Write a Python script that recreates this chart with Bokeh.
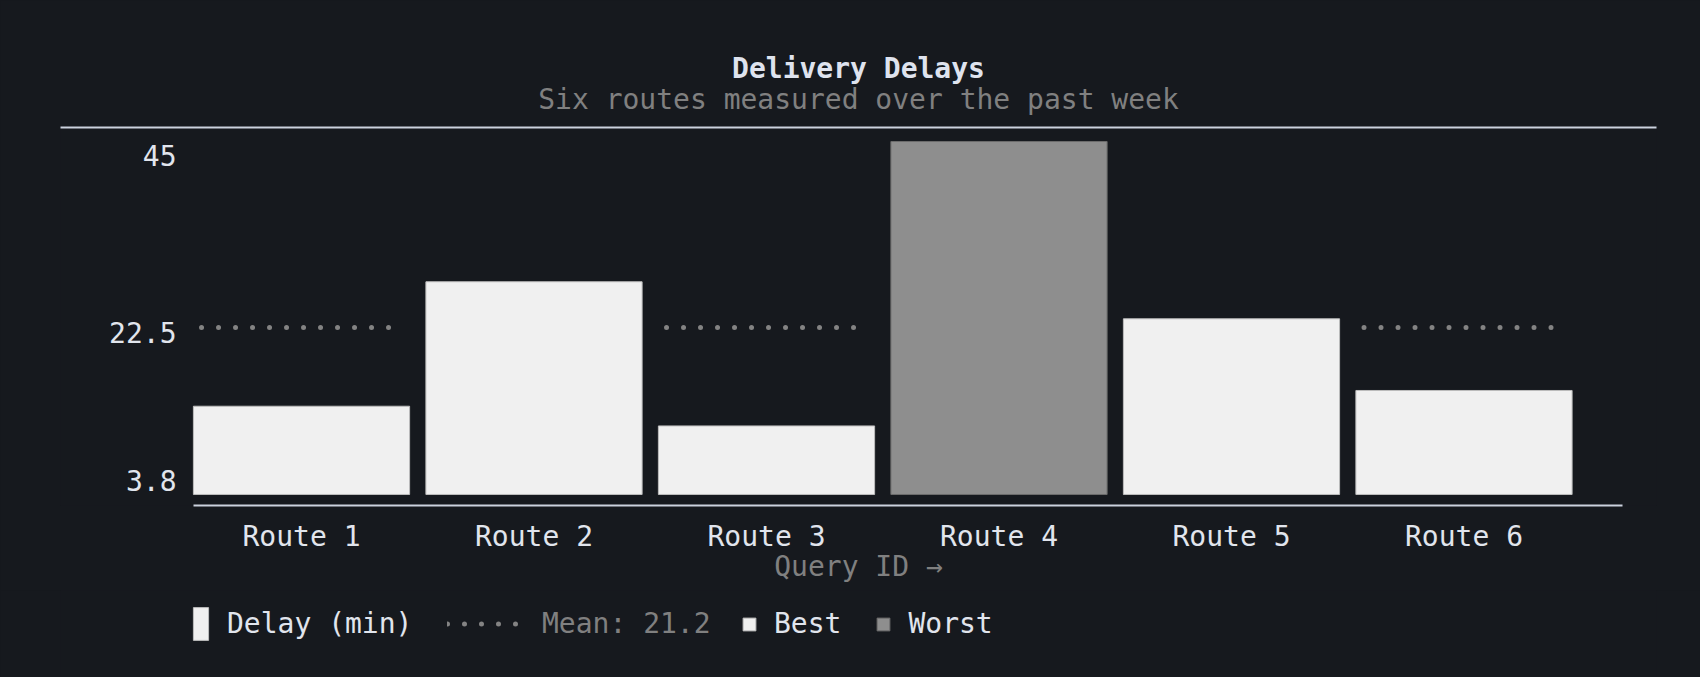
import numpy as np
from bokeh.plotting import figure
from bokeh.models import (Range1d, FixedTicker, LinearAxis, Title, Legend,
                          LegendItem, ColumnDataSource)
from bokeh.layouts import column
from bokeh.embed import file_html
from bokeh.resources import INLINE

# ---- data ----
chart_title = "Delivery Delays"
chart_subtitle = "Six routes measured over the past week"
routes = ["Route 1", "Route 2", "Route 3", "Route 4", "Route 5", "Route 6"]
delays = [11.2, 27.0, 8.7, 44.8, 22.3, 13.2]
y_ticks = [3.8, 22.5, 45]
y_tick_labels = ["3.8", "22.5", "45"]
x_axis_title = "Query ID \u2192"
series_name = "Delay (min)"

# ---- style ----
BG = "#16191e"
FONT = "DejaVu Sans Mono"
FS = "28px"
LIGHT = "#e1e5ed"
GRAY = "#808080"
RULE = "#cbd2de"
BAR = "#f0f0f0"
BAR_EDGE = "#bdbdbd"
WORST = "#8e8e8e"
WORST_EDGE = "#6c6c6c"
DOT = "#838383"

n = len(delays)
mean_val = round(sum(delays) / n, 1)
worst_i = int(np.argmax(delays))
xs = [i + 0.5 for i in range(n)]

src = ColumnDataSource(dict(
    x=xs, delay=delays, route=routes,
    fill=[WORST if i == worst_i else BAR for i in range(n)],
    edge=[WORST_EDGE if i == worst_i else BAR_EDGE for i in range(n)],
))
half = 0.43
mean_src = ColumnDataSource(dict(x0=[x - half for x in xs], x1=[x + half for x in xs],
                                 y=[mean_val] * n))

common_fig = dict(width=1700, toolbar_location=None, output_backend="svg",
                  title_location=None, x_axis_type=None, y_axis_type=None,
                  min_border_left=60, min_border_right=44,
                  background_fill_color=BG, border_fill_color=BG, outline_line_color=None)

# ---- main figure ----
p = figure(height=590, x_range=Range1d(-0.5366, 6.328), y_range=Range1d(-1.4, 46.58),
           min_border_top=127, min_border_bottom=85, **common_fig)

rule = LinearAxis(ticker=FixedTicker(ticks=[]), axis_line_color=RULE, axis_line_width=2,
                  major_tick_line_color=None, minor_tick_line_color=None,
                  major_label_text_font_size="0px")
p.add_layout(rule, "above")
p.add_layout(Title(text=chart_subtitle, align="center", text_font=FONT, text_font_size=FS,
                   text_font_style="normal", text_color=GRAY, standoff=24), "above")
p.add_layout(Title(text=chart_title, align="center", text_font=FONT, text_font_size=FS,
                   text_font_style="bold", text_color="#dfe3ee", standoff=-32), "above")

xaxis = LinearAxis(ticker=FixedTicker(ticks=xs), bounds=(0.0355, 6.182),
                   major_label_overrides={x: r for x, r in zip(xs, routes)},
                   axis_line_color=RULE, axis_line_width=2,
                   major_tick_line_color=None, minor_tick_line_color=None,
                   major_tick_out=0, major_label_standoff=14,
                   major_label_text_font=FONT, major_label_text_font_size=FS,
                   major_label_text_color=LIGHT,
                   axis_label=x_axis_title, axis_label_standoff=-6,
                   axis_label_text_font=FONT, axis_label_text_font_size=FS,
                   axis_label_text_font_style="normal", axis_label_text_color=GRAY)
p.add_layout(xaxis, "below")

# tick labels sit half a text line below their tick, as in the reference
yaxis = LinearAxis(ticker=FixedTicker(ticks=y_ticks),
                   major_label_overrides={t: "\n" + l for t, l in zip(y_ticks, y_tick_labels)},
                   axis_line_color=None, major_tick_line_color=None, minor_tick_line_color=None,
                   major_tick_out=0, major_label_standoff=-116,
                   major_label_text_line_height=1.0,
                   major_label_text_font=FONT, major_label_text_font_size=FS,
                   major_label_text_color=LIGHT)
p.add_layout(yaxis, "left")

dot_style = dict(line_color=DOT, line_width=5, line_cap="round", line_dash="0 17")
p.segment(x0="x0", x1="x1", y0="y", y1="y", source=mean_src, **dot_style)
p.vbar(x="x", top="delay", bottom=0, width=0.93, source=src,
       fill_color="fill", line_color="edge", line_width=1)

# ---- legend strip (frame aligned with main plot); key renderers sit off-canvas ----
lg = figure(height=87, x_range=Range1d(0, 1), y_range=Range1d(0, 1),
            min_border_top=0, min_border_bottom=0, **common_fig)
key_bar = lg.vbar(x=[-1], top=[0], bottom=0, width=0.001,
                  fill_color=BAR, line_color=BAR_EDGE, line_width=1)
key_worst = lg.vbar(x=[-1], top=[0], bottom=0, width=0.001,
                    fill_color=WORST, line_color=WORST_EDGE, line_width=1)
key_mean = lg.segment(x0=[-1], x1=[-1], y0=[0], y1=[0], **dot_style)

common = dict(orientation="horizontal", padding=0, margin=0, background_fill_alpha=0,
              border_line_color=None, label_text_font=FONT, label_text_font_size=FS,
              label_text_baseline="middle")
legA = Legend(items=[LegendItem(label=series_name, renderers=[key_bar])],
              location=(131, 33), glyph_width=19, glyph_height=41, label_standoff=17,
              label_text_color=LIGHT, **common)
legB = Legend(items=[LegendItem(label=f"Mean: {mean_val}", renderers=[key_mean])],
              location=(387, 37), glyph_width=73, glyph_height=33, label_standoff=22,
              label_text_color=GRAY, **common)
legC = Legend(items=[LegendItem(label="Best", renderers=[key_bar]),
                     LegendItem(label="Worst", renderers=[key_worst])],
              location=(681, 37), glyph_width=16, glyph_height=16, label_standoff=17,
              spacing=34, label_text_color=LIGHT, **common)
for leg in (legA, legB, legC):
    lg.add_layout(leg, "center")

layout = column(p, lg, spacing=0, styles={"background-color": BG})
html = file_html(layout, INLINE, title=chart_title)
html = html.replace("<body>", f'<body style="background-color:{BG};margin:0">', 1)
open("out.html", "w").write(html)
